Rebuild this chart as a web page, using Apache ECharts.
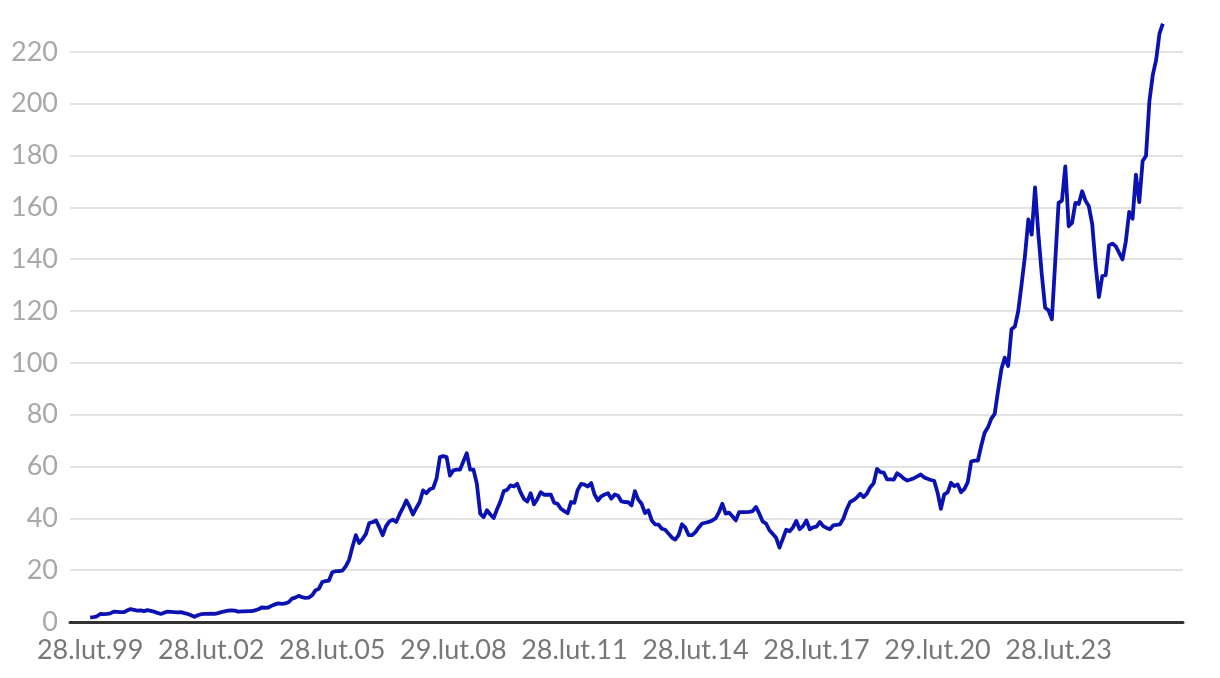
<!DOCTYPE html>
<html>
<head>
<meta charset="utf-8">
<script src="https://cdn.jsdelivr.net/npm/echarts@6/dist/echarts.min.js"></script>
<style>
html,body{margin:0;padding:0;background:#fff;}
#chart{width:1220px;height:678px;}
</style>
</head>
<body>
<div id="chart"></div>
<script>
// Monthly values, end of Feb 1999 (index 0) to end of Sep 2025 (index 319)
const values = [
  1.8, 1.9, 2.2, 3.1, 3.0, 3.1, 3.3, 4.0, 3.9, 3.8,
  3.8, 4.4, 5.0, 4.7, 4.4, 4.5, 4.2, 4.6, 4.3, 4.0,
  3.5, 3.1, 3.6, 4.0, 3.9, 3.8, 3.7, 3.8, 3.4, 3.1,
  2.6, 2.0, 2.6, 3.0, 3.1, 3.1, 3.2, 3.1, 3.4, 3.8,
  4.1, 4.4, 4.5, 4.4, 4.0, 4.1, 4.1, 4.2, 4.2, 4.5,
  4.9, 5.6, 5.5, 5.6, 6.3, 6.8, 7.2, 7.0, 7.2, 7.6,
  9.0, 9.4, 10.1, 9.6, 9.3, 9.4, 10.3, 12.2, 12.8, 15.4,
  15.8, 16.0, 19.2, 19.6, 19.6, 19.8, 21.5, 24.0, 29.0, 33.5,
  30.5, 32.0, 34.0, 38.2, 38.5, 39.2, 36.5, 33.5, 37.0, 38.8,
  39.5, 38.6, 41.5, 44.0, 46.9, 44.5, 41.5, 44.0, 46.3, 50.8,
  49.7, 51.2, 51.7, 55.3, 63.6, 64.0, 63.6, 56.5, 58.5, 58.8,
  58.8, 62.0, 65.1, 58.8, 58.8, 53.3, 41.8, 40.5, 43.1, 41.5,
  40.1, 43.5, 46.5, 50.5, 51.0, 52.7, 52.3, 53.3, 50.0, 47.5,
  46.5, 49.7, 45.4, 47.5, 50.1, 49.1, 49.1, 49.1, 46.0, 45.6,
  43.7, 42.8, 42.0, 46.3, 46.0, 51.0, 53.3, 53.0, 52.3, 53.6,
  49.2, 46.9, 48.5, 49.2, 49.7, 47.6, 49.2, 48.7, 46.5, 46.3,
  46.2, 45.0, 50.5, 47.2, 45.6, 42.0, 43.1, 39.2, 37.7, 37.6,
  36.0, 35.6, 34.1, 32.6, 31.8, 33.5, 37.7, 36.4, 33.5, 33.5,
  34.7, 36.5, 38.0, 38.3, 38.6, 39.2, 40.0, 42.4, 45.6, 41.8,
  42.2, 40.8, 39.2, 42.4, 42.4, 42.4, 42.5, 42.8, 44.4, 41.8,
  38.8, 38.0, 35.4, 34.0, 32.5, 28.7, 32.2, 35.6, 35.0, 36.5,
  39.0, 35.8, 37.0, 39.2, 35.8, 36.5, 36.8, 38.6, 37.0, 36.3,
  35.8, 37.3, 37.5, 37.7, 39.9, 43.5, 46.3, 47.0, 48.0, 49.5,
  48.2, 49.5, 52.0, 53.5, 59.1, 57.8, 57.6, 55.0, 55.0, 54.9,
  57.4, 56.5, 55.3, 54.6, 55.0, 55.5, 56.2, 56.9, 55.8, 55.3,
  54.8, 54.5, 50.0, 43.7, 49.2, 50.0, 53.7, 52.4, 53.1, 50.1,
  51.4, 54.0, 61.9, 62.3, 62.3, 68.0, 73.0, 75.1, 78.5, 80.3,
  89.2, 97.6, 102.0, 98.8, 113.0, 114.0, 120.0, 130.3, 141.2, 155.3,
  149.5, 167.7, 149.5, 134.1, 121.3, 120.3, 116.8, 139.0, 161.7, 162.6,
  175.8, 152.7, 154.0, 161.7, 161.3, 166.2, 162.6, 160.4, 153.5, 138.0,
  125.4, 133.5, 133.8, 145.3, 146.0, 145.0, 142.4, 139.9, 146.9, 158.2,
  155.6, 172.6, 162.0, 177.9, 179.9, 200.8, 211.0, 216.8, 227.0, 230.9
];

// Month index (0 = Feb 1999) of each labelled tick and its text
const tickMonths = [0, 36, 72, 108, 144, 180, 216, 252, 288];
const tickLabels = ['28.lut.99', '28.lut.02', '28.lut.05', '29.lut.08', '28.lut.11',
                    '28.lut.14', '28.lut.17', '29.lut.20', '28.lut.23'];

const seriesData = values.map((v, i) => [i, v]);

const chart = echarts.init(document.getElementById('chart'), null, {renderer: 'canvas'});
chart.setOption({
  animation: false,
  backgroundColor: '#ffffff',
  grid: {left: 70, right: 37, top: -3, bottom: 56, containLabel: false},
  xAxis: {
    type: 'value',
    min: -6,
    max: 325,
    axisLine: {show: true, onZero: false, lineStyle: {color: '#333333', width: 3}},
    axisTick: {show: false},
    splitLine: {show: false},
    axisLabel: {
      customValues: tickMonths,
      formatter: function (val) {
        const k = tickMonths.indexOf(Math.round(val));
        return k >= 0 ? tickLabels[k] : '';
      },
      color: '#777777',
      fontFamily: 'Lato',
      fontSize: 27,
      margin: 15
    }
  },
  yAxis: {
    type: 'value',
    min: 0,
    max: 240,
    interval: 20,
    axisLine: {show: false},
    axisTick: {show: false},
    splitLine: {showMaxLine: false, lineStyle: {color: '#e2e2e2', width: 2}},
    axisLabel: {
      showMaxLabel: false,
      color: '#a8a8a8',
      fontFamily: 'Lato',
      fontSize: 27,
      margin: 12
    }
  },
  series: [{
    type: 'line',
    data: seriesData,
    showSymbol: false,
    symbol: 'none',
    lineStyle: {color: '#0a12b2', width: 3.8, join: 'round'},
    clip: false
  }]
});
</script>
</body>
</html>
